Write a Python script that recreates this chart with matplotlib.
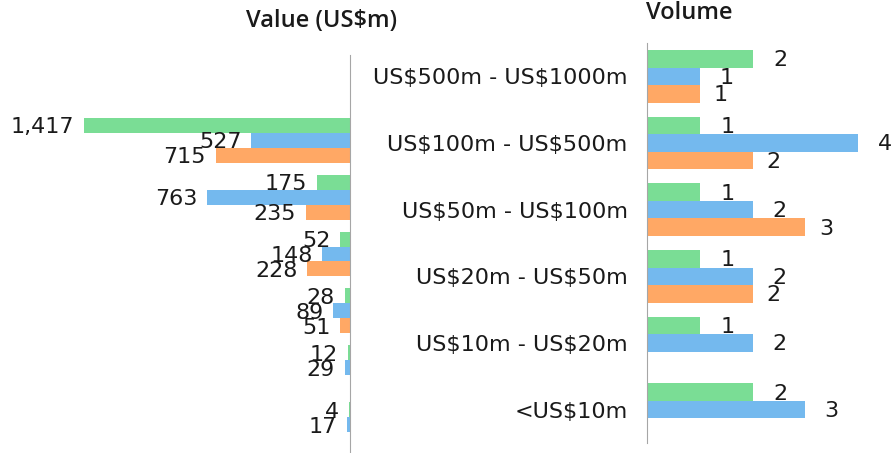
import numpy as np
import matplotlib.pyplot as plt

# categories (right panel), the value panel has one extra empty slot on top
categories = ["US\\$500m - US\\$1000m", "US\\$100m - US\\$500m", "US\\$50m - US\\$100m",
              "US\\$20m - US\\$50m", "US\\$10m - US\\$20m", "<US\\$10m"]

# value (US$m), 7 slots, first one empty
green_val = [np.nan, 1417, 175, 52, 28, 12, 4]
blue_val = [np.nan, 527, 763, 148, 89, 29, 17]
orange_val = [np.nan, 715, 235, 228, 51, np.nan, np.nan]

# volume
green_vol = [2, 1, 1, 1, 1, 2]
blue_vol = [1, 4, 2, 2, 2, 3]
orange_vol = [1, 2, 3, 2, np.nan, np.nan]

c_green = "#7ADD95"
c_blue = "#74B9EE"
c_orange = "#FFA865"
axis_col = "#A6A6A6"
txt_col = "#1a1a1a"

W, H = 891, 453
fig = plt.figure(figsize=(W / 100, H / 100), dpi=100)

def px_box(x0, y0, x1, y1):
    # pixel box (from top-left) -> figure fraction rect
    return [x0 / W, 1 - y1 / H, (x1 - x0) / W, (y1 - y0) / H]

h = 0.79 / 3
num_font = dict(fontsize=16, color=txt_col, family="DejaVu Sans")

# left panel: value
ax1 = fig.add_axes(px_box(0, 55, 350, 453))
n1 = len(green_val)
y1 = np.arange(n1)
for vals, col, off in [(green_val, c_green, -h), (blue_val, c_blue, 0), (orange_val, c_orange, h)]:
    bars = ax1.barh(y1 + off, vals, height=h, color=col)
    for b, v in zip(bars, vals):
        if np.isnan(v):
            continue
        ax1.annotate(f"{int(v):,}", (v, b.get_y() + b.get_height() / 2),
                     xytext=(-7, -1.5), textcoords="offset points",
                     ha="right", va="center", **num_font)
ax1.set_xlim(1864, 0)
ax1.set_ylim(n1 - 0.5, -0.5)
for s in ["top", "bottom", "left"]:
    ax1.spines[s].set_visible(False)
ax1.spines["right"].set_color(axis_col)
ax1.set_xticks([])
ax1.set_yticks([])
ax1.patch.set_alpha(0)

# right panel: volume
ax2 = fig.add_axes(px_box(647, 43, 891, 443))
n2 = len(categories)
y2 = np.arange(n2)
for vals, col, off, dx in [(green_vol, c_green, -h, 20), (blue_vol, c_blue, 0, 19), (orange_vol, c_orange, h, 15)]:
    bars = ax2.barh(y2 + off, vals, height=h, color=col)
    for b, v in zip(bars, vals):
        if np.isnan(v):
            continue
        ax2.annotate(f"{int(v)}", (v, b.get_y() + b.get_height() / 2),
                     xytext=(dx, -1), textcoords="offset points",
                     ha="center", va="center", annotation_clip=False, **num_font)
ax2.set_xlim(0, 244 / 52.8)
ax2.set_ylim(n2 - 0.5, -0.5)
for s in ["top", "bottom", "right"]:
    ax2.spines[s].set_visible(False)
ax2.spines["left"].set_color(axis_col)
ax2.set_xticks([])
ax2.set_yticks(y2)
ax2.set_yticklabels(categories, fontsize=16, color=txt_col)
ax2.tick_params(axis="y", length=0, pad=14)
ax2.patch.set_alpha(0)

fig.text(322 / W, 1 - 21 / H, "Value (US\\$m)", ha="center", va="center",
         fontsize=17, fontweight="semibold", family="Open Sans", color=txt_col)
fig.text(689 / W, 1 - 13 / H, "Volume", ha="center", va="center",
         fontsize=17, fontweight="semibold", family="Open Sans", color=txt_col)

fig.savefig("out.png", dpi=100)
